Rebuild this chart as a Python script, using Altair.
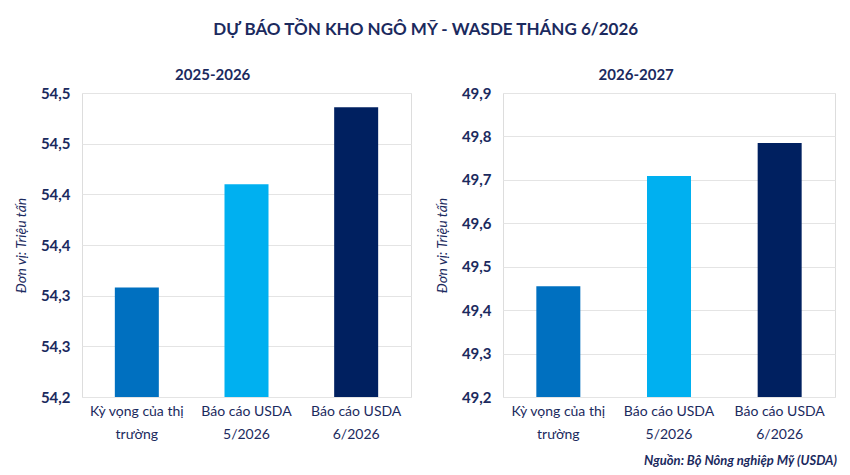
import json
import altair as alt
import pandas as pd

title_main = "DỰ BÁO TỒN KHO NGÔ MỸ - WASDE THÁNG 6/2026"
categories = ["Kỳ vọng của thị trường", "Báo cáo USDA 5/2026", "Báo cáo USDA 6/2026"]
category_lines = [["Kỳ vọng của thị", "trường"], ["Báo cáo USDA", "5/2026"], ["Báo cáo USDA", "6/2026"]]
colors = ["#0070C0", "#00B0F0", "#002060"]

left_title = "2025-2026"
left_values = [54.308, 54.41, 54.486]
left_ticks = [54.20, 54.25, 54.30, 54.35, 54.40, 54.45, 54.50]

right_title = "2026-2027"
right_values = [49.455, 49.709, 49.785]
right_ticks = [49.2, 49.3, 49.4, 49.5, 49.6, 49.7, 49.8, 49.9]

y_title = "Đơn vị: Triệu tấn"
source = "Nguồn: Bộ Nông nghiệp Mỹ (USDA)"

NAVY = "#1B2A5E"
FONT = "Lato"

x_label_expr = " : ".join(
    f"datum.value == {json.dumps(c, ensure_ascii=False)} ? {json.dumps(l, ensure_ascii=False)}"
    for c, l in zip(categories, category_lines)
) + " : datum.label"
y_label_expr = "replace(format(datum.value, '.1f'), '.', ',')"


def panel(name, values, ticks, w, h, extra=None):
    df = pd.DataFrame({"cat": categories, "val": values})
    base = alt.Chart(df).mark_bar(width=44).encode(
        x=alt.X(
            "cat:N",
            sort=categories,
            title=None,
            axis=alt.Axis(
                labelAngle=0,
                labelExpr=x_label_expr,
                labelFont=FONT,
                labelFontSize=14,
                labelColor=NAVY,
                labelPadding=7,
                labelLineHeight=23,
                domain=False,
                ticks=False,
            ),
        ),
        y=alt.Y(
            "val:Q",
            title=y_title,
            scale=alt.Scale(domain=[ticks[0], ticks[-1]], zero=False, nice=False),
            axis=alt.Axis(
                values=ticks,
                labelExpr=y_label_expr,
                labelFont=FONT,
                labelFontSize=15,
                labelFontWeight="bold",
                labelColor=NAVY,
                labelPadding=12,
                titleFont=FONT,
                titleFontSize=14,
                titleFontStyle="italic",
                titleFontWeight="normal",
                titleColor=NAVY,
                titlePadding=12,
                domain=False,
                ticks=False,
                gridColor="#E4E4E4",
            ),
        ),
        y2=alt.Y2(datum=ticks[0]),
        color=alt.Color("cat:N", sort=categories, scale=alt.Scale(domain=categories, range=colors), legend=None),
    )
    layers = [base]
    if extra is not None:
        layers.append(extra)
    return alt.layer(*layers).properties(
        width=w,
        height=h,
        title=alt.TitleParams(name, font=FONT, fontSize=15, fontWeight="bold", color=NAVY,
                              offset=3, frame="bounds", anchor="middle"),
    )


src_chart = alt.Chart(pd.DataFrame({"t": [source]})).mark_text(
    align="right", baseline="middle", font=FONT, fontSize=13, fontStyle="italic", fontWeight="bold", color=NAVY
).encode(text="t:N", x=alt.value(334), y=alt.value(368))

left = panel(left_title, left_values, left_ticks, 329, 304)
right = panel(right_title, right_values, right_ticks, 332, 304, src_chart)

chart = alt.hconcat(left, right, spacing=22).properties(
    title=alt.TitleParams(title_main, font=FONT, fontSize=17, fontWeight="bold", color=NAVY, anchor="middle", offset=29),
    padding={"left": 13, "top": 20, "right": 10, "bottom": 5},
).configure_view(stroke=None).configure(background="white")

chart.save("out.html", embed_options={"renderer": "svg", "actions": False})
